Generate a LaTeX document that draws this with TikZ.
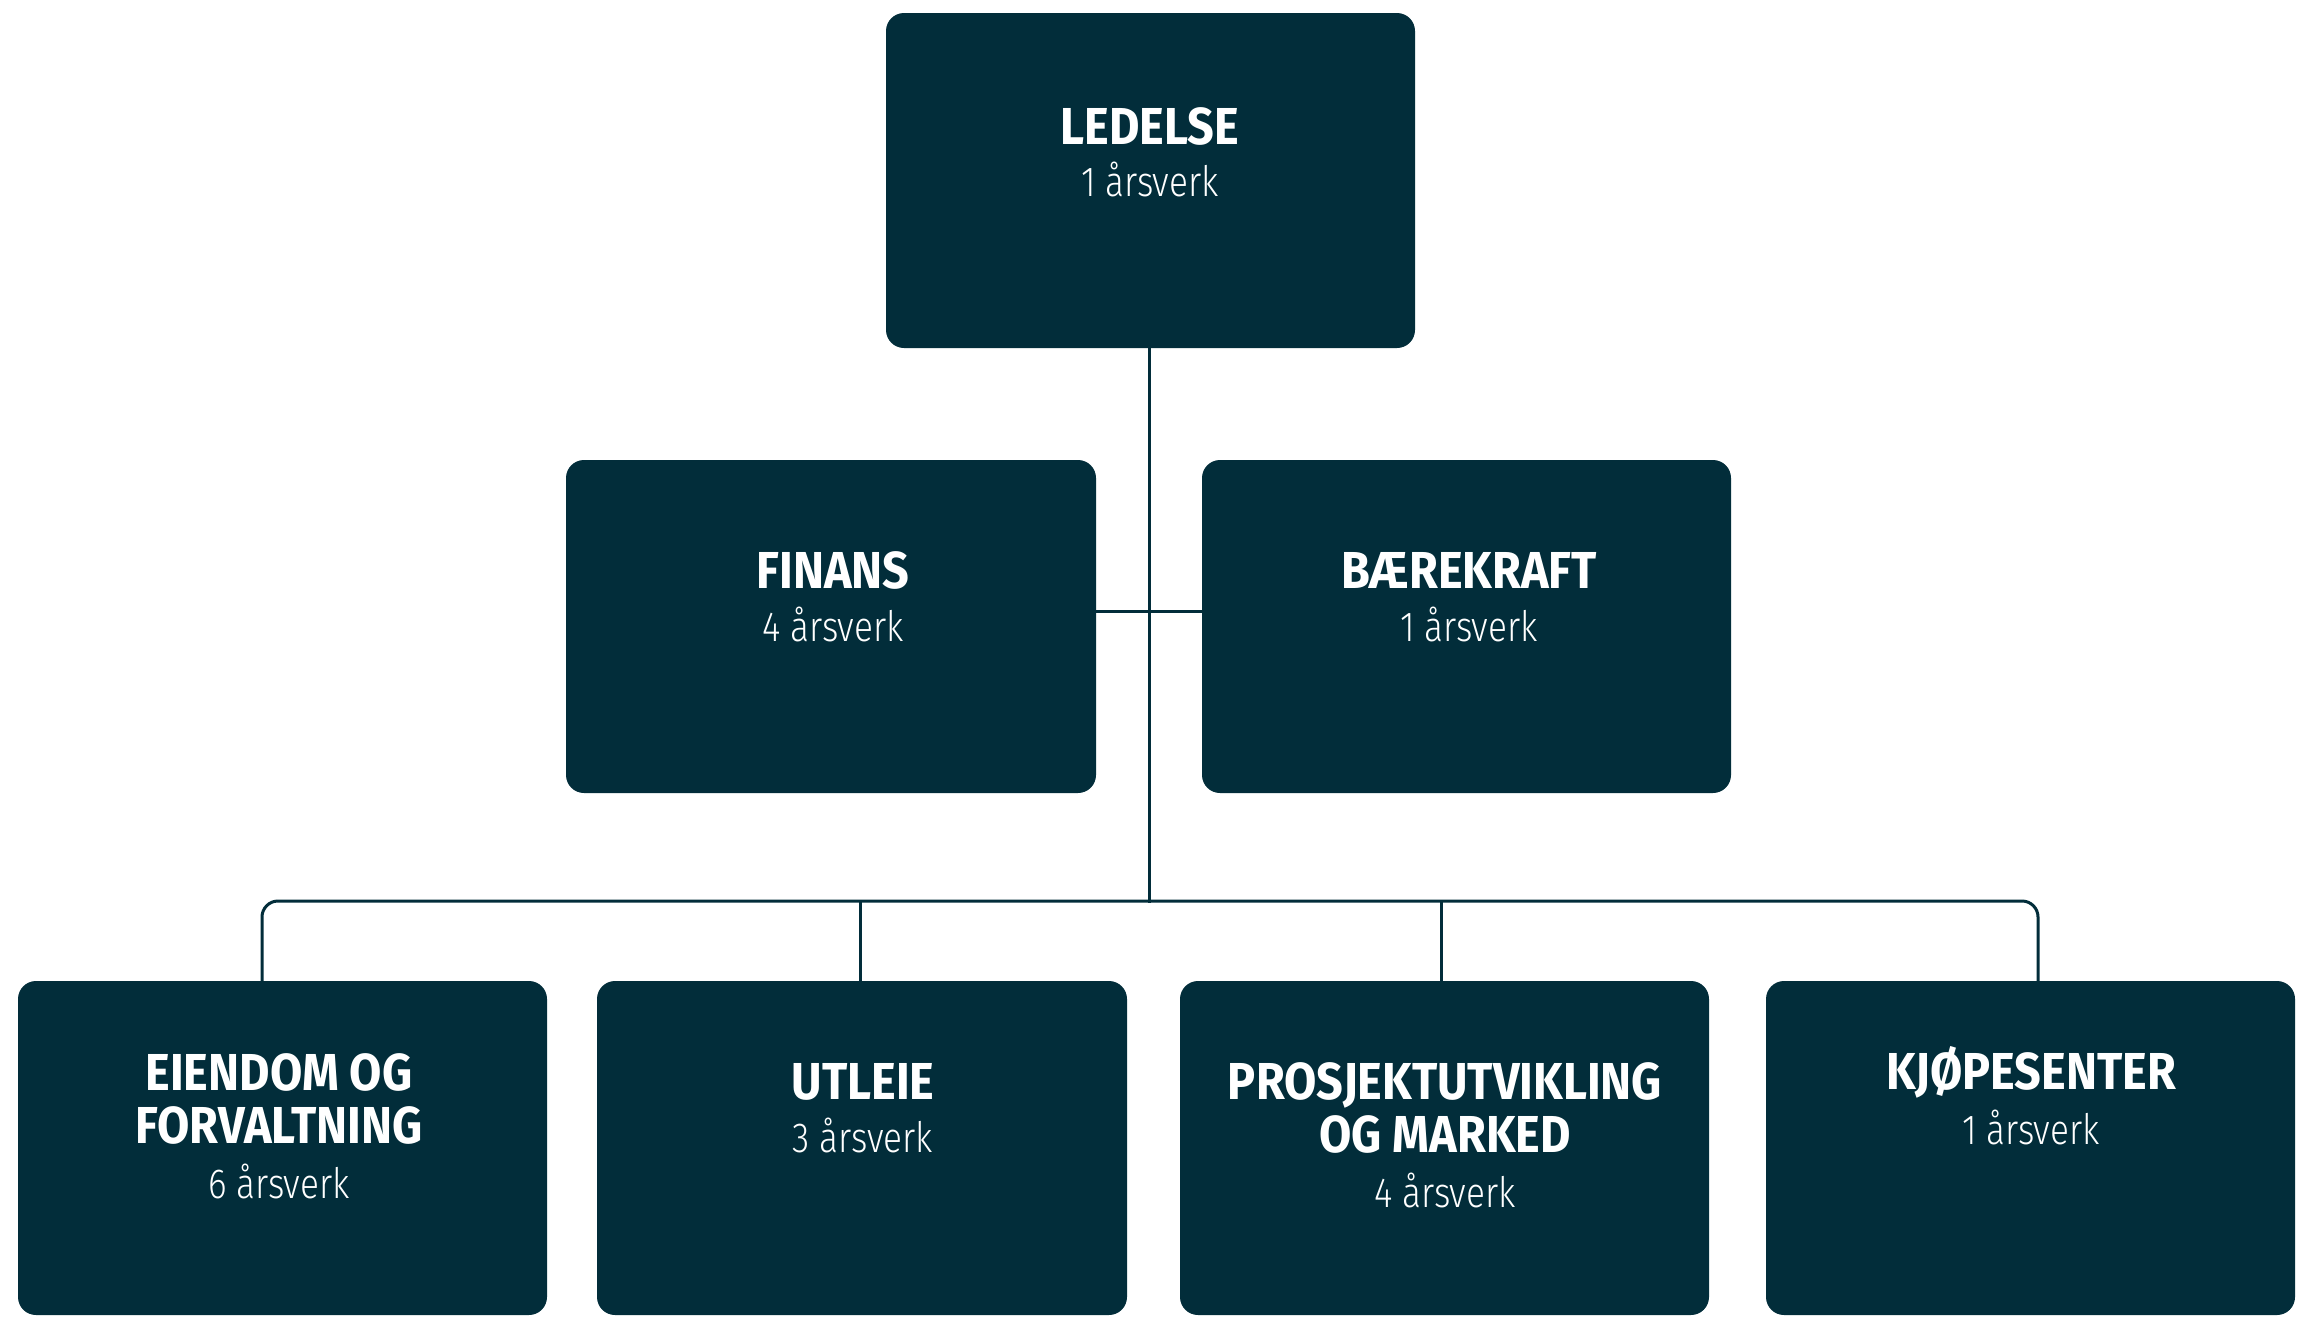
\documentclass[tikz,border=0pt]{standalone}
\usepackage{fontspec}
\newfontfamily\titlefont[FakeStretch=0.90]{Fira Sans Bold}
\newfontfamily\subfont[FakeStretch=0.84]{Fira Sans Light}
\definecolor{navy}{HTML}{022D3A}
\tikzset{
  box/.style={fill=navy, rounded corners=18pt, inner sep=0pt, draw=none},
  ttl/.style={text=white, anchor=base, inner sep=0pt, font=\titlefont\fontsize{52}{60}\selectfont},
  sub/.style={text=white, anchor=base, inner sep=0pt, font=\subfont\fontsize{42}{50}\selectfont},
  conn/.style={draw=navy, line width=3pt}
}
\begin{document}
\begin{tikzpicture}[x=1pt,y=-1pt]
\useasboundingbox (0,0) rectangle (2304,1326);
% boxes
\node[box, minimum width=529pt, minimum height=335pt] (led) at (1150.5,180.5) {};
\node[box, minimum width=530pt, minimum height=333pt] (fin) at (831,626.5) {};
\node[box, minimum width=529pt, minimum height=333pt] (bae) at (1466.5,626.5) {};
\node[box, minimum width=529pt, minimum height=334pt] (b1) at (282.5,1148) {};
\node[box, minimum width=530pt, minimum height=334pt] (b2) at (862,1148) {};
\node[box, minimum width=529pt, minimum height=334pt] (b3) at (1444.5,1148) {};
\node[box, minimum width=529pt, minimum height=334pt] (b4) at (2030.5,1148) {};
% texts
\node[ttl] (t0) at (1150,144) {LEDELSE};
\node[sub] (s0) at (1150,196) {1 årsverk};
\node[ttl] (t1) at (833,588) {FINANS};
\node[sub] (s1) at (833,641) {4 årsverk};
\node[ttl] (t2) at (1469,588) {BÆREKRAFT};
\node[sub] (s2) at (1469,641) {1 årsverk};
\node[ttl] (t3a) at (279,1090) {EIENDOM OG};
\node[ttl] (t3b) at (279,1143) {FORVALTNING};
\node[sub] (s3) at (279,1198) {6 årsverk};
\node[ttl] (t4) at (863,1099) {UTLEIE};
\node[sub] (s4) at (863,1152) {3 årsverk};
\node[ttl] (t5a) at (1445,1099) {PROSJEKTUTVIKLING};
\node[ttl] (t5b) at (1445,1152) {OG MARKED};
\node[sub] (s5) at (1445,1207) {4 årsverk};
\node[ttl] (t6) at (2031,1089) {KJØPESENTER};
\node[sub] (s6) at (2031,1144) {1 årsverk};
% connector coordinates
\coordinate (mid) at (1149,611);
\coordinate (hub) at (1149,903);
\coordinate (d1) at (262,901);
\coordinate (d2) at (860,901);
\coordinate (d3) at (1441,901);
\coordinate (d4) at (2038,901);
% connectors
\draw[conn] (led.south -| hub) -- (hub);
\draw[conn] (fin.east |- mid) -- (bae.west |- mid);
\draw[conn, rounded corners=16pt] (b1.north -| d1) -- (d1) -- (d4) -- (b4.north -| d4);
\draw[conn] (d2) -- (b2.north -| d2);
\draw[conn] (d3) -- (b3.north -| d3);
\end{tikzpicture}
\end{document}
